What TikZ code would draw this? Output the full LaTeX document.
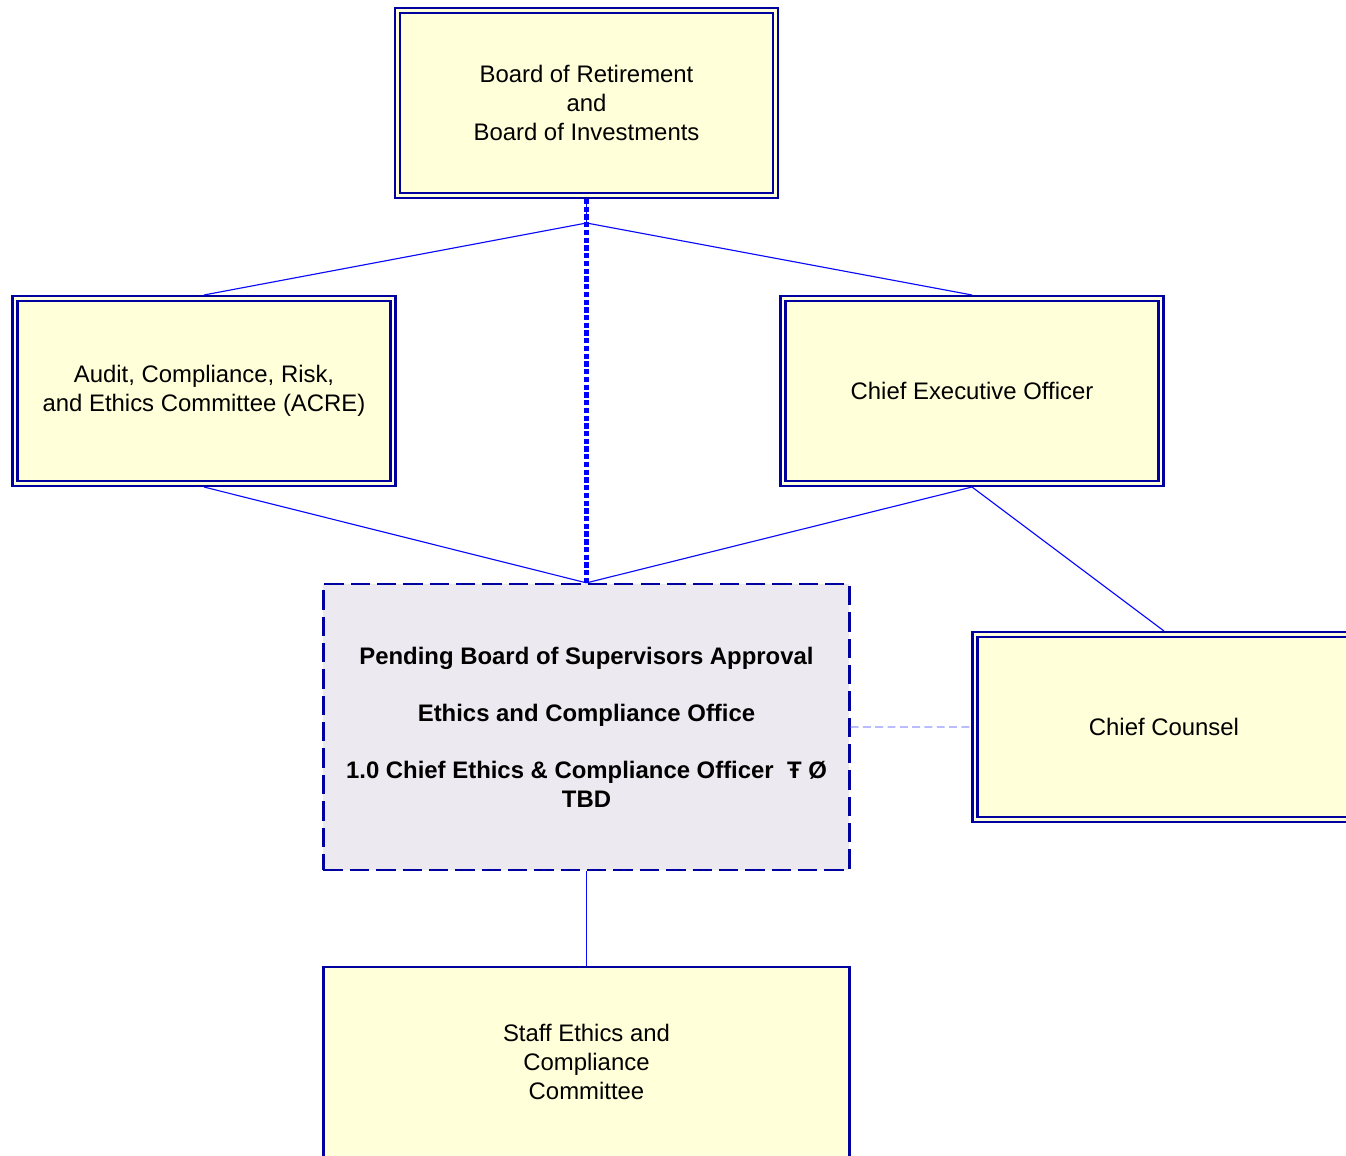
\documentclass[tikz,border=0pt]{standalone}
\usepackage{fontspec}
\setmainfont{Liberation Sans}
\usetikzlibrary{positioning}
\definecolor{boxnavy}{RGB}{0,0,160}
\definecolor{linkblue}{RGB}{10,10,255}
\definecolor{paleyellow}{RGB}{255,255,217}
\definecolor{palelilac}{RGB}{236,233,240}
\definecolor{softblue}{RGB}{150,150,255}

\begin{document}
\begin{tikzpicture}[
    on grid,
    font=\fontsize{13.6}{16.3}\selectfont,
    unit/.style={draw=boxnavy, line width=1.25pt, double=paleyellow, double distance=1.5pt,
                 fill=paleyellow, minimum width=7.56cm, minimum height=3.7cm,
                 align=center, outer sep=2pt},
    office/.style={draw=boxnavy, line width=1.3pt, dash pattern=on 11pt off 4pt,
                   fill=palelilac, minimum width=10.52cm, minimum height=5.72cm,
                   align=center, font=\fontsize{13.6}{16.3}\selectfont\bfseries, outer sep=0.65pt},
    panel/.style={draw=boxnavy, line width=1.3pt, fill=paleyellow,
                  minimum width=10.52cm, minimum height=3.8cm, align=center, outer sep=0.65pt},
    link/.style={draw=linkblue, line width=0.65pt},
    oversight/.style={draw=blue, line width=2.4pt, dash pattern=on 3pt off 1.4pt},
    advice/.style={draw=softblue, line width=0.8pt, dash pattern=on 4.5pt off 2.5pt}
]
    \useasboundingbox (-11.73,2.06) rectangle (15.19,-21.06);

    % Nodes
    \node[unit] (board) {Board of Retirement\\and\\Board of Investments};
    \node[unit, below left=5.76cm and 7.65cm of board] (acre) {Audit, Compliance, Risk,\\and Ethics Committee (ACRE)};
    \node[unit, below right=5.76cm and 7.71cm of board] (ceo) {Chief Executive Officer};
    \node[office, below=12.48cm of board] (office) {Pending Board of Supervisors Approval\\[16.3pt]
        Ethics and Compliance Office\\[16.3pt]
        1.0 Chief Ethics \& Compliance Officer~\ Ŧ Ø\\TBD};
    \node[unit, below right=6.72cm and 3.84cm of ceo] (counsel) {Chief Counsel};
    \node[panel, below=6.7cm of office] (staff) {Staff Ethics and\\Compliance\\Committee};
    \coordinate[below=2.4cm of board] (split);

    % Reporting lines
    \draw[link] (board.south) -- (split);
    \draw[link] (split) -- (acre.north);
    \draw[link] (split) -- (ceo.north);
    \draw[link] (acre.south) -- (office.north);
    \draw[link] (ceo.south) -- (office.north);
    \draw[link] (ceo.south) -- (counsel.north);
    \draw[link] (office.south) -- (staff.north);

    % Board oversight and legal advice
    \draw[oversight] (board.south) -- (office.north);
    \draw[advice] (office.east) -- (counsel.west);
\end{tikzpicture}
\end{document}
